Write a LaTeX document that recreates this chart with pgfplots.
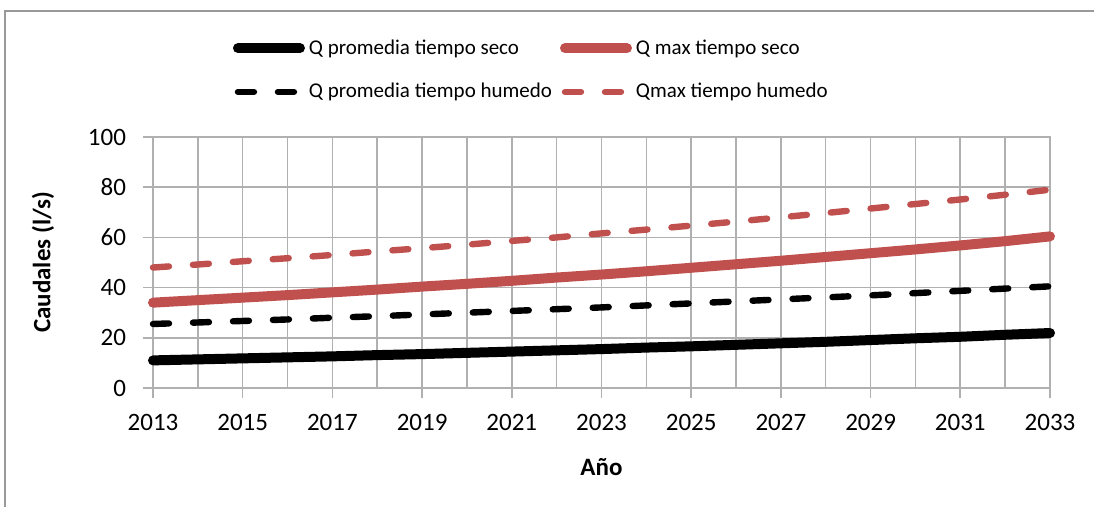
\documentclass[border=0pt]{standalone}
\usepackage{pgfplots}
\pgfplotsset{compat=1.18}
\usepackage{fontspec}
\setmainfont{Carlito}
\definecolor{exred}{HTML}{C0504D}
\definecolor{gridgray}{HTML}{B0B0B0}
\pgfplotstableread{
year qps qms qph qmh
2013 11.0 34.0 25.5 48.0
2014 11.4 35.0 26.1 49.2
2015 11.8 36.0 26.7 50.5
2016 12.2 37.0 27.3 51.7
2017 12.6 38.1 28.0 53.0
2018 13.1 39.2 28.6 54.4
2019 13.5 40.4 29.3 55.7
2020 14.0 41.5 30.0 57.1
2021 14.5 42.7 30.7 58.6
2022 15.0 44.0 31.4 60.0
2023 15.5 45.2 32.1 61.6
2024 16.1 46.5 32.9 63.1
2025 16.6 47.9 33.7 64.7
2026 17.2 49.3 34.5 66.3
2027 17.8 50.7 35.3 68.0
2028 18.4 52.2 36.1 69.7
2029 19.1 53.7 36.9 71.5
2030 19.8 55.2 37.8 73.3
2031 20.4 56.8 38.7 75.1
2032 21.2 58.5 39.6 77.0
2033 21.9 60.4 40.5 79.0
}\datatable
\begin{document}
\begin{tikzpicture}
\path[use as bounding box] (0,0) rectangle (547pt,253.5pt);
\draw[gray!80, line width=0.8pt] (2.5pt,0) -- (2.5pt,248pt) -- (547pt,248pt);
\begin{axis}[
  at={(76.5pt,59.5pt)}, anchor=south west,
  width=448.5pt, height=125.5pt, scale only axis,
  xmin=2013, xmax=2033, ymin=0, ymax=100,
  xtick={2013,2015,...,2033},
  minor xtick={2013,2014,...,2033},
  ytick={0,20,...,100},
  grid=both,
  major grid style={gridgray, line width=0.8pt},
  minor grid style={gridgray, line width=0.8pt},
  axis line style={gridgray, line width=0.8pt},
  tick style={gridgray, line width=0.8pt},
  tick align=outside, major tick length=5pt, minor tick length=0pt,
  xtick pos=bottom, ytick pos=left,
  /pgf/number format/assume math mode=true,
  x tick label style={/pgf/number format/1000 sep={}, font=\fontsize{12.5}{14}\selectfont, yshift=-4.5pt},
  y tick label style={font=\fontsize{12.5}{14}\selectfont, xshift=-5pt},
  xlabel={\textbf{Año}},
  ylabel={\textbf{Caudales (l/s)}},
  label style={font=\fontsize{12.5}{14}\selectfont},
  xlabel style={yshift=-7pt},
  ylabel style={yshift=10pt},
  legend columns=2,
  legend style={at={(0.082,1.422)}, anchor=north west, draw=none, fill=none,
    font=\fontsize{10.5}{12}\selectfont, row sep=9pt,
    /tikz/every odd column/.append style={column sep=0pt},
    /tikz/every even column/.append style={column sep=2pt}},
  legend cell align=left,
  legend image code/.code={\draw[#1] (0pt,0pt) -- (31pt,0pt);},
  clip=false,
]
\addplot[black, line width=5pt, line cap=round] table[x=year,y=qps] {\datatable};
\addlegendentry{Q promedia tiempo seco}
\addplot[exred, line width=5pt, line cap=round] table[x=year,y=qms] {\datatable};
\addlegendentry{Q max tiempo seco}
\addplot[black, line width=3.2pt, line cap=round, dash pattern=on 8pt off 12pt] table[x=year,y=qph] {\datatable};
\addlegendentry{Q promedia tiempo humedo}
\addplot[exred, line width=3.2pt, line cap=round, dash pattern=on 8pt off 12pt] table[x=year,y=qmh] {\datatable};
\addlegendentry{Qmax tiempo humedo}
\end{axis}
\end{tikzpicture}
\end{document}
